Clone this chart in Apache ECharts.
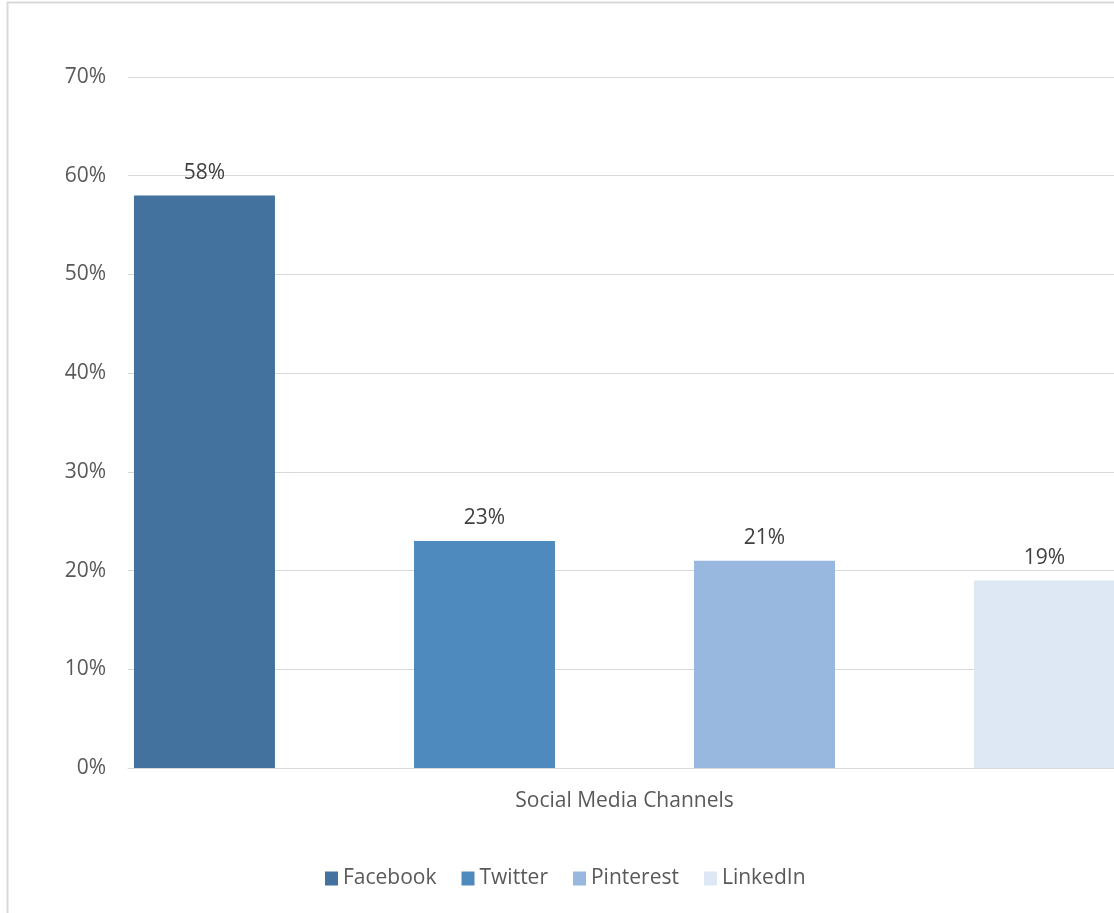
<!DOCTYPE html>
<html>
<head>
<meta charset="utf-8">
<script src="https://cdn.jsdelivr.net/npm/echarts@6/dist/echarts.min.js"></script>
<style>
html,body{margin:0;padding:0;background:#fff;overflow:hidden;width:1114px;height:913px;}
#chart{width:1140px;height:913px;}
</style>
</head>
<body>
<div id="chart"></div>
<script>
const categories = ['Social Media Channels'];
const seriesNames = ['Facebook', 'Twitter', 'Pinterest', 'LinkedIn'];
const seriesValues = [[58], [23], [21], [19]];
const seriesColors = ['#43729e', '#4f8abf', '#98b8df', '#dde8f4'];
const yTicks = { min: 0, max: 70, interval: 10 };

const FONT = '"Open Sans", "Noto Sans", sans-serif';
const chart = echarts.init(document.getElementById('chart'), null, { renderer: 'canvas' });
chart.setOption({
  animation: false,
  backgroundColor: '#fff',
  graphic: [{
    type: 'rect', silent: true, z: -1,
    shape: { x: 7.5, y: 2.5, width: 1300, height: 1100 },
    style: { fill: 'none', stroke: '#d9d9d9', lineWidth: 2 }
  }],
  grid: { left: 128, right: 19, top: 77, bottom: 145, containLabel: false },
  legend: {
    left: 325, top: 868, padding: 0,
    itemWidth: 13, itemHeight: 14, itemGap: 25,
    icon: 'rect',
    textStyle: { fontFamily: FONT, fontSize: 21, color: '#595959' },
    data: seriesNames
  },
  xAxis: {
    type: 'category', data: categories,
    axisLine: { show: true, lineStyle: { color: '#d9d9d9', width: 1 } },
    axisTick: { show: false },
    axisLabel: { fontFamily: FONT, fontSize: 21, color: '#595959', margin: 23 }
  },
  yAxis: {
    type: 'value', min: yTicks.min, max: yTicks.max, interval: yTicks.interval,
    axisLine: { show: false }, axisTick: { show: false },
    splitLine: { lineStyle: { color: '#d9d9d9', width: 1 } },
    axisLabel: { fontFamily: FONT, fontSize: 21, color: '#595959', margin: 22, formatter: '{value}%' }
  },
  series: seriesNames.map((n, i) => ({
    name: n, type: 'bar', data: seriesValues[i],
    barWidth: 141, barGap: '98.6%',
    itemStyle: { color: seriesColors[i] },
    label: { show: true, position: 'top', distance: 12, formatter: '{c}%', fontFamily: FONT, fontSize: 21, color: '#404040' }
  }))
});
</script>
</body>
</html>
